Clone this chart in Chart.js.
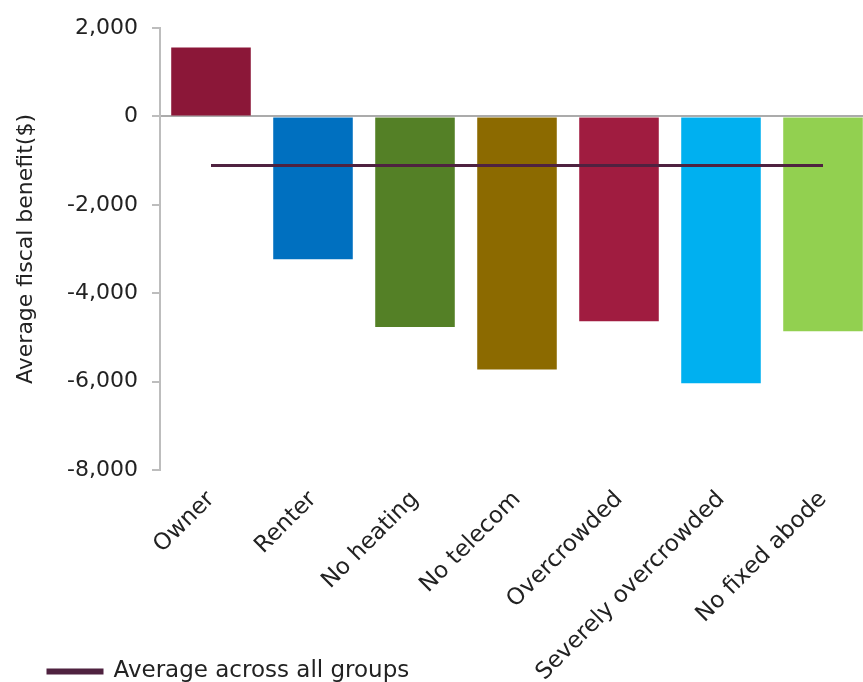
<!DOCTYPE html>
<html>
<head>
<meta charset="utf-8">
<script src="https://cdn.jsdelivr.net/npm/chart.js@4"></script>
<style>
  html, body { margin: 0; padding: 0; background: #fff; overflow: hidden; }
  #wrap { position: relative; width: 874px; height: 682px; }
</style>
</head>
<body>
<div id="wrap"><canvas id="chart"></canvas></div>
<script>
const categories = ['Owner', 'Renter', 'No heating', 'No telecom', 'Overcrowded', 'Severely overcrowded', 'No fixed abode'];
const benefit = [1560, -3230, -4765, -5725, -4635, -6040, -4860];
const barColors = ['#8B1738', '#0070C0', '#548026', '#8C6A00', '#A01C40', '#00B0F0', '#92D050'];
const groupAverage = [-1110, -1110, -1110, -1110, -1110, -1110, -1110];
const yTicks = [2000, 0, -2000, -4000, -6000, -8000];

const FONT = 'DejaVu Sans';
const fmt = v => v.toLocaleString('en-US');

// rotated category labels run down into the legend row, so let the x axis
// draw all the way to the bottom and slide the legend under the first labels
const bottomLayout = {
  id: 'bottomLayout',
  afterLayout(chart) {
    chart.scales.x.bottom = chart.height;
    chart.legend.left = 44;
    chart.legend.top += 11;
  }
};

new Chart(document.getElementById('chart'), {
  data: {
    labels: categories,
    datasets: [
      {
        type: 'line',
        label: 'Average across all groups',
        data: groupAverage,
        borderColor: '#4F2240',
        backgroundColor: '#4F2240',
        borderWidth: 3,
        pointRadius: 0,
        order: 0
      },
      {
        type: 'bar',
        label: 'Average fiscal benefit',
        data: benefit,
        backgroundColor: barColors,
        barPercentage: 0.78,
        categoryPercentage: 1,
        order: 1
      }
    ]
  },
  plugins: [bottomLayout],
  options: {
    responsive: true,
    maintainAspectRatio: false,
    animation: false,
    layout: { padding: { top: 28, left: 13, right: 0, bottom: 0 } },
    plugins: {
      tooltip: { enabled: false },
      legend: {
        position: 'bottom',
        align: 'start',
        labels: {
          color: '#222',
          font: { family: FONT, size: 23 },
          boxWidth: 54,
          boxHeight: 3,
          padding: 4,
          filter: item => item.datasetIndex === 0
        }
      }
    },
    scales: {
      x: {
        grid: { display: false, drawTicks: false },
        border: { display: false },
        ticks: {
          color: '#222',
          font: { family: FONT, size: 23 },
          maxRotation: 45,
          minRotation: 45,
          padding: 16,
          autoSkip: false
        },
        afterFit: scale => { scale.height = 175; }
      },
      y: {
        min: -8000,
        max: 2000,
        afterBuildTicks: scale => { scale.ticks = yTicks.map(v => ({ value: v })); },
        grid: {
          color: ctx => (ctx.tick && ctx.tick.value === 0 ? '#ABABAB' : 'rgba(0,0,0,0)'),
          tickColor: '#BDBDBD',
          tickLength: 8,
          lineWidth: 2
        },
        border: { display: true, color: '#BDBDBD', width: 2 },
        ticks: {
          color: '#222',
          font: { family: FONT, size: 22 },
          padding: 14,
          callback: v => fmt(v)
        },
        title: {
          display: true,
          text: 'Average fiscal benefit($)',
          color: '#222',
          font: { family: FONT, size: 22 },
          padding: 0
        },
        afterFit: scale => { scale.width = 147; }
      }
    }
  }
});
</script>
</body>
</html>
